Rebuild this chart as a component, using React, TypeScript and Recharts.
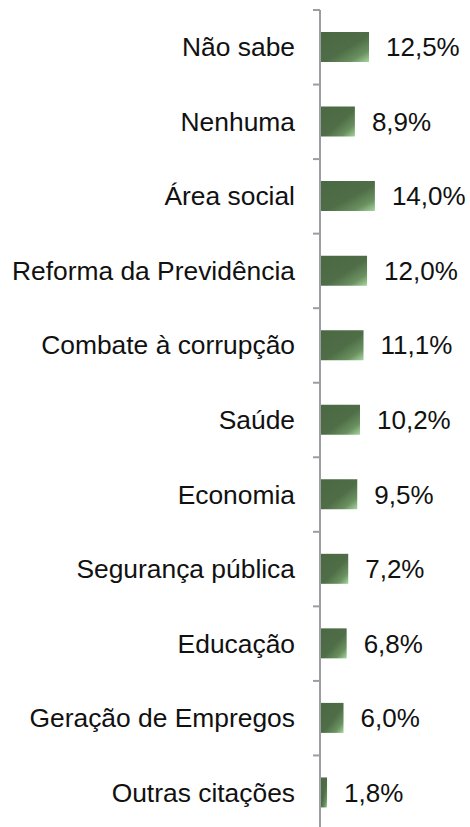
import React from 'react';
import { BarChart, Bar, XAxis, YAxis, LabelList } from 'recharts';

const categories = [
  'Não sabe',
  'Nenhuma',
  'Área social',
  'Reforma da Previdência',
  'Combate à corrupção',
  'Saúde',
  'Economia',
  'Segurança pública',
  'Educação',
  'Geração de Empregos',
  'Outras citações',
];
const values = [12.5, 8.9, 14.0, 12.0, 11.1, 10.2, 9.5, 7.2, 6.8, 6.0, 1.8];

const data = categories.map((c, i) => ({ name: c, value: values[i] }));

const WIDTH = 470;
const HEIGHT = 830;
const MARGIN_TOP = 10;
const PLOT_H = HEIGHT - MARGIN_TOP;
const BAND = PLOT_H / categories.length;

const fmt = (v: number) => v.toFixed(1).replace('.', ',') + '%';

const FONT = '"Liberation Sans", Arial, sans-serif';

const CustomTick = (props: any) => {
  const { x, y, payload } = props;
  const axisX = x;
  const top = y - BAND / 2;
  return (
    <g>
      <line x1={axisX - 7} x2={axisX} y1={top} y2={top} stroke="#9a9ea3" strokeWidth={2} />
      <text
        x={axisX - 25}
        y={y}
        textAnchor="end"
        dominantBaseline="central"
        fontSize={26.4}
        fontFamily={FONT}
        fill="#111"
      >
        {payload.value}
      </text>
    </g>
  );
};

export default function App() {
  return (
    <div style={{ position: 'absolute', left: 0, top: 0, background: '#fff' }}>
      <BarChart
        width={WIDTH}
        height={HEIGHT}
        data={data}
        layout="vertical"
        margin={{ top: MARGIN_TOP, right: 1, bottom: 0, left: 0 }}
      >
        <defs>
          <linearGradient id="barGrad" x1="0" y1="0" x2="1" y2="1">
            <stop offset="0%" stopColor="#4a6841" />
            <stop offset="55%" stopColor="#4f6e47" />
            <stop offset="80%" stopColor="#6a9060" />
            <stop offset="100%" stopColor="#a6d6a0" />
          </linearGradient>
        </defs>
        <XAxis type="number" domain={[0, 38]} hide />
        <YAxis
          type="category"
          dataKey="name"
          width={320}
          axisLine={{ stroke: '#9a9ea3', strokeWidth: 2 }}
          tickLine={false}
          tickSize={0}
          tickMargin={0}
          tick={<CustomTick />}
          interval={0}
        />
        <Bar dataKey="value" fill="url(#barGrad)" barSize={30} isAnimationActive={false}>
          <LabelList
            dataKey="value"
            position="right"
            offset={17}
            formatter={(v: any) => fmt(Number(v))}
            style={{ fontSize: 26, fontFamily: FONT, fill: '#111' }}
          />
        </Bar>
      </BarChart>
    </div>
  );
}
